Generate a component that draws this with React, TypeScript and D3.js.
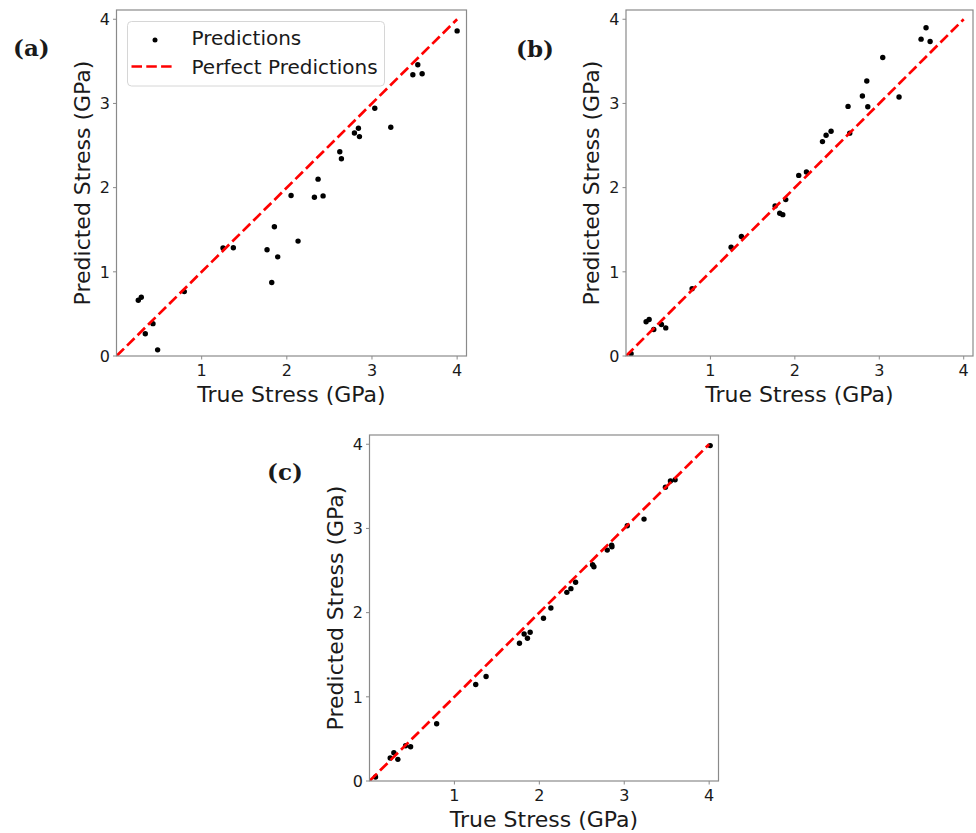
import React from "react";
import * as d3 from "d3";

// Panel (a)
const trueA = [0.256, 0.291, 0.338, 0.428, 0.483, 0.796, 1.251, 1.372, 1.768, 1.854, 1.823, 1.893, 2.05, 2.132, 2.324, 2.367, 2.426, 2.622, 2.641, 2.794, 2.841, 2.853, 3.033, 3.221, 3.48, 3.538, 3.589, 4.0];
const predA = [0.662, 0.698, 0.264, 0.384, 0.073, 0.765, 1.282, 1.286, 1.262, 1.536, 0.873, 1.178, 1.906, 1.365, 1.886, 2.101, 1.902, 2.427, 2.343, 2.649, 2.705, 2.606, 2.943, 2.717, 3.341, 3.46, 3.352, 3.862];

// Panel (b)
const trueB = [0.06, 0.238, 0.274, 0.329, 0.42, 0.471, 0.783, 1.245, 1.367, 1.766, 1.821, 1.857, 1.892, 2.046, 2.137, 2.327, 2.37, 2.429, 2.63, 2.65, 2.8, 2.852, 2.864, 3.041, 3.234, 3.495, 3.554, 3.602];
const predB = [0.028, 0.406, 0.434, 0.314, 0.374, 0.334, 0.8, 1.293, 1.42, 1.783, 1.695, 1.679, 1.858, 2.145, 2.185, 2.547, 2.622, 2.67, 2.965, 2.647, 3.088, 3.267, 2.961, 3.546, 3.076, 3.764, 3.9, 3.736];

// Panel (c)
const trueC = [0.071, 0.244, 0.287, 0.334, 0.425, 0.484, 0.791, 1.251, 1.373, 1.766, 1.821, 1.86, 1.892, 2.049, 2.136, 2.324, 2.372, 2.427, 2.627, 2.643, 2.8, 2.852, 2.855, 3.036, 3.233, 3.485, 3.544, 3.599, 4.012];
const predC = [0.047, 0.273, 0.336, 0.257, 0.419, 0.407, 0.68, 1.146, 1.241, 1.636, 1.747, 1.696, 1.767, 1.933, 2.055, 2.241, 2.285, 2.36, 2.569, 2.545, 2.743, 2.802, 2.783, 3.032, 3.111, 3.49, 3.565, 3.577, 3.984];

const tickValues = [1, 2, 3, 4];
const yTickValues = [0, 1, 2, 3, 4];
const perfectLine = [0, 4];
const domainMax = 4.11;
const xLabel = "True Stress (GPa)";
const yLabel = "Predicted Stress (GPa)";
const legendLabels = ["Predictions", "Perfect Predictions"];

const FONT = "'DejaVu Sans', sans-serif";
const SPINE = "#8a8a8a";

type PanelProps = {
  left: number;
  top: number;
  w: number;
  h: number;
  xs: number[];
  ys: number[];
  tag: string;
  tagX: number;
  tagY: number;
  legend?: boolean;
};

function Panel({ left, top, w, h, xs, ys, tag, tagX, tagY, legend }: PanelProps) {
  const x = d3.scaleLinear().domain([0, domainMax]).range([left, left + w]);
  const y = d3.scaleLinear().domain([0, domainMax]).range([top + h, top]);
  const line = d3
    .line<number>()
    .x((d) => x(d))
    .y((d) => y(d));
  const clipId = "clip-" + tag.replace(/[()]/g, "");
  return (
    <g>
      <defs>
        <clipPath id={clipId}>
          <rect x={left} y={top} width={w} height={h} />
        </clipPath>
      </defs>
      <g clipPath={`url(#${clipId})`}>
        {xs.map((v, i) => (
          <circle key={i} cx={x(v)} cy={y(ys[i])} r={2.7} fill="#000" />
        ))}
        <path d={line(perfectLine) || ""} stroke="#ff0000" strokeWidth={2.7} strokeDasharray="10.5,4.3" fill="none" />
      </g>
      <rect x={left} y={top} width={w} height={h} fill="none" stroke={SPINE} strokeWidth={1.2} />
      {tickValues.map((t) => (
        <g key={"x" + t}>
          <line x1={x(t)} x2={x(t)} y1={top + h} y2={top + h + 3.5} stroke={SPINE} strokeWidth={1} />
          <text x={x(t)} y={top + h + 20} textAnchor="middle" fontSize={16} fontFamily={FONT} fill="#1a1a1a">
            {t}
          </text>
        </g>
      ))}
      {yTickValues.map((t) => (
        <g key={"y" + t}>
          <line x1={left - 3.5} x2={left} y1={y(t)} y2={y(t)} stroke={SPINE} strokeWidth={1} />
          <text x={left - 6.5} y={y(t)} dy="0.36em" textAnchor="end" fontSize={16} fontFamily={FONT} fill="#1a1a1a">
            {t}
          </text>
        </g>
      ))}
      <text x={left + w / 2} y={top + h + 46} textAnchor="middle" fontSize={22} fontFamily={FONT} fill="#1a1a1a">
        {xLabel}
      </text>
      <text
        transform={`translate(${left - 27},${top + h / 2}) rotate(-90)`}
        textAnchor="middle"
        fontSize={22}
        fontFamily={FONT}
        fill="#1a1a1a"
      >
        {yLabel}
      </text>
      <text x={tagX} y={tagY} fontSize={23} fontWeight="bold" fontFamily="'DejaVu Serif', serif" fill="#1a1a1a">
        {tag}
      </text>
      {legend && (
        <g>
          <rect x={left + 11} y={top + 11.5} width={257} height={64.5} rx={4} fill="#fff" fillOpacity={0.85} stroke="#d6d6d6" strokeWidth={1} />
          <circle cx={left + 38.5} cy={top + 30} r={2.5} fill="#000" />
          <text x={left + 75} y={top + 34.5} fontSize={20} fontFamily={FONT} fill="#1a1a1a">
            {legendLabels[0]}
          </text>
          <line x1={left + 15} x2={left + 58} y1={top + 56.5} y2={top + 56.5} stroke="#ff0000" strokeWidth={2.7} strokeDasharray="10.5,4.3" />
          <text x={left + 75} y={top + 63.5} fontSize={20} fontFamily={FONT} fill="#1a1a1a">
            {legendLabels[1]}
          </text>
        </g>
      )}
    </g>
  );
}

export default function App() {
  return (
    <svg width={976} height={833} style={{ position: "absolute", left: 0, top: 0, background: "#fff" }}>
      <rect x={0} y={0} width={976} height={833} fill="#fff" />
      <Panel left={116.5} top={10} w={350} h={346} xs={trueA} ys={predA} tag="(a)" tagX={13} tagY={56} legend />
      <Panel left={626} top={10} w={347} h={346} xs={trueB} ys={predB} tag="(b)" tagX={516} tagY={57} />
      <Panel left={369.5} top={435} w={349} h={346} xs={trueC} ys={predC} tag="(c)" tagX={267} tagY={480} />
    </svg>
  );
}
